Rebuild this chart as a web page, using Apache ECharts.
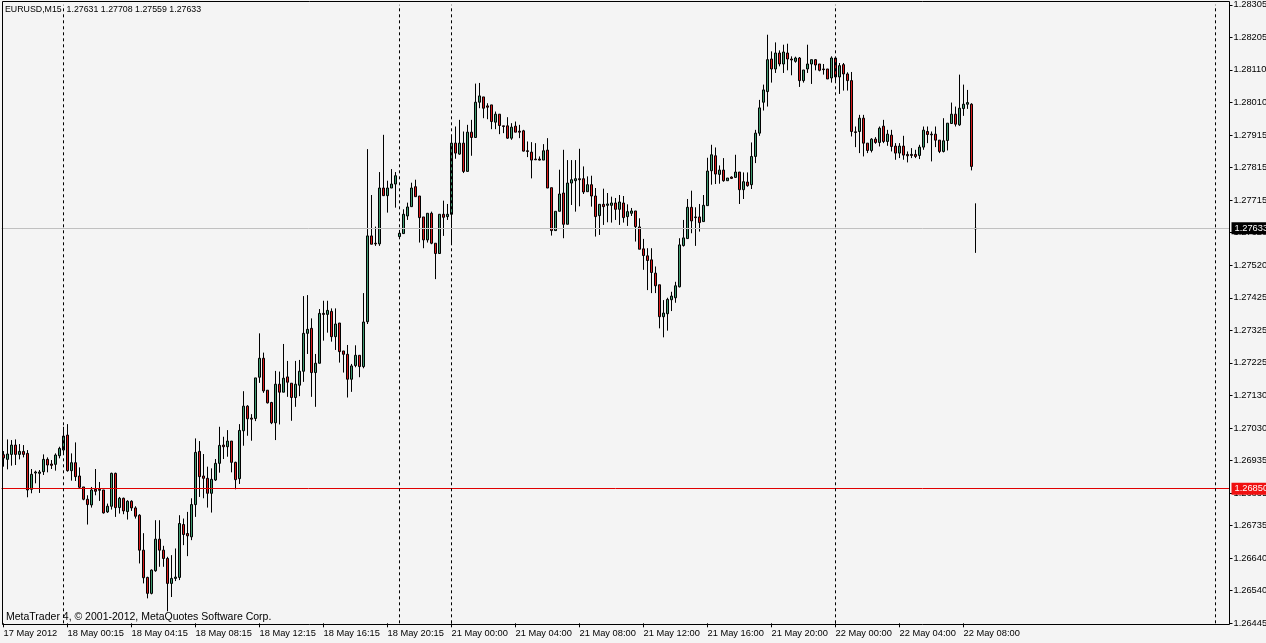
<!DOCTYPE html>
<html>
<head>
<meta charset="utf-8">
<script src="https://cdn.jsdelivr.net/npm/echarts@6.0.0/dist/echarts.min.js"></script>
<style>
html,body{margin:0;padding:0;background:#f4f4f4;}
#chart{width:1266px;height:643px;}
</style>
</head>
<body>
<div id="chart"></div>
<script>
// ---- data (EURUSD M15, bar index 0 = 17 May 2012 20:15) ----
const opens = [1.26952,1.26938,1.26953,1.26981,1.26953,1.26962,1.26956,1.26848,1.26897,1.26896,1.26901,1.26938,1.26924,1.26923,1.26949,1.26966,1.27011,1.26904,1.26928,1.26888,1.26855,1.26818,1.26801,1.26848,1.26848,1.26846,1.26780,1.26797,1.26896,1.26793,1.26821,1.26781,1.26812,1.26792,1.26770,1.26665,1.26583,1.26535,1.26603,1.26698,1.26665,1.26640,1.26565,1.26580,1.26583,1.26742,1.26715,1.26705,1.26802,1.26962,1.26888,1.26881,1.26836,1.26876,1.26926,1.26981,1.26976,1.26993,1.26929,1.26880,1.27024,1.27098,1.27062,1.27061,1.27185,1.27242,1.27146,1.27109,1.27048,1.27164,1.27140,1.27186,1.27167,1.27124,1.27161,1.27203,1.27317,1.27332,1.27199,1.27227,1.27377,1.27374,1.27383,1.27307,1.27348,1.27264,1.27254,1.27179,1.27220,1.27251,1.27217,1.27352,1.27610,1.27588,1.27586,1.27754,1.27731,1.27754,1.27766,1.27608,1.27617,1.27670,1.27698,1.27758,1.27730,1.27667,1.27598,1.27678,1.27588,1.27557,1.27675,1.27668,1.27675,1.27889,1.27856,1.27889,1.27804,1.27922,1.27906,1.28012,1.28028,1.28001,1.28004,1.27952,1.27976,1.27941,1.27941,1.27904,1.27940,1.27925,1.27926,1.27866,1.27862,1.27841,1.27841,1.27838,1.27868,1.27755,1.27626,1.27684,1.27739,1.27645,1.27769,1.27776,1.27782,1.27782,1.27743,1.27764,1.27730,1.27671,1.27705,1.27702,1.27702,1.27709,1.27690,1.27709,1.27668,1.27678,1.27685,1.27637,1.27571,1.27550,1.27538,1.27498,1.27463,1.27367,1.27376,1.27418,1.27424,1.27457,1.27581,1.27602,1.27696,1.27667,1.27667,1.27653,1.27701,1.27806,1.27851,1.27795,1.27808,1.27776,1.27787,1.27786,1.27802,1.27749,1.27772,1.27764,1.27849,1.27919,1.28012,1.28044,1.28142,1.28112,1.28160,1.28127,1.28160,1.28142,1.28135,1.28145,1.28077,1.28112,1.28127,1.28140,1.28127,1.28112,1.28112,1.28085,1.28145,1.28088,1.28125,1.28097,1.28077,1.27923,1.27924,1.27964,1.27889,1.27867,1.27901,1.27891,1.27940,1.27894,1.27913,1.27880,1.27859,1.27880,1.27855,1.27855,1.27855,1.27852,1.27877,1.27924,1.27916,1.27916,1.27898,1.27864,1.27897,1.27948,1.27976,1.27944,1.27993,1.28006,1.28006,1.27631];
const closes = [1.26942,1.26954,1.26981,1.26953,1.26962,1.26953,1.26846,1.26893,1.26900,1.26900,1.26938,1.26921,1.26920,1.26951,1.26971,1.27008,1.26904,1.26928,1.26886,1.26854,1.26818,1.26802,1.26846,1.26842,1.26845,1.26777,1.26797,1.26896,1.26793,1.26821,1.26783,1.26812,1.26792,1.26767,1.26665,1.26582,1.26535,1.26605,1.26698,1.26665,1.26640,1.26565,1.26580,1.26584,1.26745,1.26712,1.26708,1.26802,1.26959,1.26886,1.26881,1.26836,1.26878,1.26926,1.26980,1.26976,1.26993,1.26929,1.26877,1.27025,1.27098,1.27060,1.27059,1.27183,1.27242,1.27144,1.27108,1.27048,1.27164,1.27140,1.27182,1.27170,1.27124,1.27164,1.27203,1.27317,1.27329,1.27199,1.27227,1.27377,1.27374,1.27386,1.27307,1.27345,1.27262,1.27254,1.27179,1.27219,1.27251,1.27217,1.27351,1.27610,1.27585,1.27586,1.27754,1.27731,1.27754,1.27766,1.27791,1.27618,1.27675,1.27697,1.27754,1.27728,1.27665,1.27598,1.27678,1.27588,1.27557,1.27675,1.27666,1.27675,1.27889,1.27859,1.27889,1.27804,1.27922,1.27906,1.28012,1.28031,1.27994,1.27997,1.27954,1.27976,1.27942,1.27939,1.27904,1.27937,1.27922,1.27922,1.27865,1.27864,1.27838,1.27839,1.27838,1.27866,1.27754,1.27626,1.27684,1.27736,1.27645,1.27769,1.27779,1.27782,1.27779,1.27742,1.27764,1.27730,1.27668,1.27705,1.27698,1.27706,1.27709,1.27690,1.27712,1.27665,1.27683,1.27685,1.27638,1.27570,1.27551,1.27536,1.27500,1.27460,1.27367,1.27378,1.27419,1.27429,1.27460,1.27583,1.27604,1.27696,1.27655,1.27665,1.27650,1.27702,1.27805,1.27854,1.27796,1.27808,1.27776,1.27784,1.27783,1.27802,1.27749,1.27773,1.27761,1.27849,1.27919,1.27995,1.28049,1.28140,1.28112,1.28160,1.28127,1.28163,1.28142,1.28139,1.28145,1.28077,1.28109,1.28127,1.28140,1.28124,1.28108,1.28110,1.28082,1.28145,1.28088,1.28122,1.28097,1.28077,1.27924,1.27921,1.27964,1.27889,1.27867,1.27901,1.27891,1.27934,1.27894,1.27916,1.27879,1.27859,1.27880,1.27853,1.27851,1.27852,1.27849,1.27877,1.27928,1.27915,1.27914,1.27898,1.27864,1.27896,1.27949,1.27976,1.27946,1.27994,1.28006,1.28011,1.27819,1.27633];
const lows = [1.26916,1.26908,1.26919,1.26921,1.26938,1.26944,1.26824,1.26836,1.26866,1.26837,1.26891,1.26899,1.26909,1.26904,1.26941,1.26956,1.26901,1.26874,1.26873,1.26851,1.26815,1.26742,1.26793,1.26830,1.26813,1.26775,1.26777,1.26787,1.26765,1.26775,1.26773,1.26757,1.26783,1.26760,1.26625,1.26565,1.26520,1.26532,1.26600,1.26615,1.26615,1.26481,1.26524,1.26572,1.26575,1.26680,1.26647,1.26695,1.26765,1.26825,1.26821,1.26793,1.26778,1.26873,1.26898,1.26939,1.26946,1.26899,1.26848,1.26864,1.26979,1.27009,1.26994,1.27053,1.27168,1.27138,1.27106,1.27044,1.26996,1.27043,1.27140,1.27126,1.27054,1.27096,1.27128,1.27171,1.27255,1.27126,1.27096,1.27227,1.27295,1.27319,1.27292,1.27267,1.27229,1.27199,1.27124,1.27141,1.27215,1.27185,1.27212,1.27345,1.27585,1.27580,1.27580,1.27731,1.27680,1.27754,1.27695,1.27602,1.27617,1.27658,1.27698,1.27728,1.27590,1.27573,1.27590,1.27585,1.27480,1.27557,1.27610,1.27658,1.27583,1.27842,1.27854,1.27799,1.27804,1.27851,1.27906,1.27994,1.27964,1.27961,1.27931,1.27931,1.27916,1.27919,1.27902,1.27899,1.27922,1.27904,1.27864,1.27847,1.27783,1.27838,1.27837,1.27838,1.27754,1.27611,1.27626,1.27684,1.27603,1.27645,1.27703,1.27683,1.27699,1.27736,1.27743,1.27698,1.27608,1.27613,1.27643,1.27651,1.27650,1.27658,1.27643,1.27650,1.27640,1.27670,1.27593,1.27570,1.27508,1.27447,1.27438,1.27438,1.27332,1.27305,1.27325,1.27384,1.27409,1.27455,1.27578,1.27602,1.27618,1.27580,1.27623,1.27653,1.27701,1.27764,1.27766,1.27767,1.27773,1.27776,1.27781,1.27784,1.27706,1.27721,1.27758,1.27751,1.27829,1.27911,1.27987,1.27999,1.28071,1.28100,1.28120,1.28100,1.28108,1.28093,1.28131,1.28058,1.28071,1.28100,1.28067,1.28108,1.28105,1.28095,1.28082,1.28071,1.28071,1.28037,1.28047,1.28047,1.27909,1.27877,1.27859,1.27849,1.27859,1.27861,1.27887,1.27879,1.27889,1.27881,1.27864,1.27839,1.27844,1.27839,1.27831,1.27844,1.27844,1.27841,1.27869,1.27889,1.27834,1.27877,1.27859,1.27861,1.27867,1.27948,1.27939,1.27941,1.27971,1.27992,1.27807,1.27559];
const highs = [1.26963,1.26998,1.26996,1.26998,1.26984,1.26981,1.26966,1.26909,1.26904,1.26906,1.26953,1.26944,1.26936,1.26956,1.26976,1.27036,1.27044,1.26956,1.26989,1.26914,1.26855,1.26830,1.26855,1.26909,1.26870,1.26846,1.26805,1.26898,1.26898,1.26825,1.26823,1.26815,1.26815,1.26797,1.26773,1.26716,1.26585,1.26607,1.26755,1.26755,1.26678,1.26645,1.26650,1.26670,1.26770,1.26760,1.26780,1.26821,1.27001,1.26993,1.26954,1.26916,1.26911,1.26939,1.27036,1.27006,1.27026,1.26993,1.26931,1.27044,1.27143,1.27101,1.27074,1.27183,1.27317,1.27259,1.27146,1.27111,1.27204,1.27202,1.27285,1.27234,1.27167,1.27234,1.27237,1.27429,1.27432,1.27362,1.27255,1.27390,1.27415,1.27415,1.27392,1.27392,1.27348,1.27264,1.27282,1.27225,1.27281,1.27251,1.27438,1.27871,1.27733,1.27638,1.27802,1.27914,1.27776,1.27811,1.27802,1.27628,1.27690,1.27710,1.27770,1.27779,1.27730,1.27667,1.27678,1.27683,1.27588,1.27675,1.27716,1.27706,1.27914,1.27939,1.27959,1.27924,1.27944,1.27959,1.28068,1.28070,1.28028,1.28009,1.28004,1.27984,1.27976,1.27941,1.27967,1.27949,1.27954,1.27944,1.27929,1.27894,1.27892,1.27889,1.27849,1.27886,1.27904,1.27755,1.27684,1.27809,1.27869,1.27838,1.27838,1.27838,1.27872,1.27819,1.27789,1.27791,1.27754,1.27705,1.27752,1.27739,1.27728,1.27724,1.27733,1.27730,1.27705,1.27694,1.27685,1.27663,1.27601,1.27573,1.27573,1.27518,1.27463,1.27417,1.27424,1.27442,1.27472,1.27603,1.27658,1.27721,1.27746,1.27696,1.27706,1.27733,1.27845,1.27884,1.27876,1.27822,1.27844,1.27784,1.27789,1.27854,1.27802,1.27801,1.27801,1.27891,1.27929,1.28019,1.28065,1.28215,1.28165,1.28192,1.28168,1.28185,1.28188,1.28150,1.28149,1.28148,1.28109,1.28185,1.28140,1.28142,1.28127,1.28127,1.28112,1.28150,1.28145,1.28130,1.28130,1.28102,1.28103,1.27939,1.27974,1.27974,1.27889,1.27904,1.27907,1.27939,1.27959,1.27929,1.27929,1.27889,1.27889,1.27911,1.27864,1.27874,1.27869,1.27884,1.27939,1.27939,1.27924,1.27939,1.27898,1.27964,1.27949,1.28011,1.27999,1.28095,1.28065,1.28049,1.28009,1.27708];

// time-axis tick labels (every 16 bars = 4 hours)
const timeTickIndex = [0,16,32,48,64,80,96,112,128,144,160,176,192,208,224,240];
const timeTickText = ['17 May 2012','18 May 00:15','18 May 04:15','18 May 08:15','18 May 12:15','18 May 16:15','18 May 20:15','21 May 00:00','21 May 04:00','21 May 08:00','21 May 12:00','21 May 16:00','21 May 20:00','22 May 00:00','22 May 04:00','22 May 08:00'];
// price-axis tick labels, bottom to top
const priceTicks = ['1.26445','1.26540','1.26640','1.26735','1.26835','1.26935','1.27030','1.27130','1.27225','1.27325','1.27425','1.27520','1.27620','1.27715','1.27815','1.27915','1.28010','1.28110','1.28205','1.28305'];
const priceMin = 1.26445, priceMax = 1.28305;
// day separators (bar indices) and horizontal levels
const separators = [15, 99, 112, 208, 303];
const bidPrice = 1.27633;
const levelPrice = 1.26850;
const totalSlots = 307;
const titleText = 'EURUSD,M15  1.27631 1.27708 1.27559 1.27633';
const footerText = 'MetaTrader 4, \u00a9 2001-2012, MetaQuotes Software Corp.';

const categories = [];
for (let i = 0; i < totalSlots; i++) categories.push(String(i));
const candleData = opens.map((o, i) => [o, closes[i], lows[i], highs[i]]);
const tickMap = {};
timeTickIndex.forEach((idx, k) => { tickMap[idx] = timeTickText[k]; });

const FONT = 'Liberation Sans';
const FS = 9.3;

const chart = echarts.init(document.getElementById('chart'), null, {renderer: 'canvas'});
const option = {
  animation: false,
  backgroundColor: '#f4f4f4',
  grid: {left: 1.5, top: 4.8, width: totalSlots * 4, height: 618.5, containLabel: false, outerBoundsMode: 'none'},
  xAxis: {
    type: 'category',
    data: categories,
    boundaryGap: true,
    offset: 1,
    axisLine: {show: false},
    axisTick: {show: true, alignWithLabel: true, length: 4, interval: (i) => tickMap[i] !== undefined, lineStyle: {color: '#000'}},
    axisLabel: {
      show: true, interval: (i) => tickMap[i] !== undefined,
      formatter: (v, idx) => tickMap[idx] || '',
      align: 'left', margin: 5, color: '#000', fontFamily: FONT, fontSize: FS
    },
    splitLine: {show: false}
  },
  yAxis: [
    {type: 'value', min: priceMin, max: priceMax, show: false, position: 'right', splitLine: {show: false}},
    {
      type: 'value', min: 0, max: priceTicks.length - 1, interval: 1, position: 'right',
      axisLine: {show: false},
      axisTick: {show: true, length: 3, lineStyle: {color: '#000'}},
      axisLabel: {formatter: (v) => priceTicks[Math.round(v)] || '', margin: 4, color: '#000', fontFamily: FONT, fontSize: FS},
      splitLine: {show: false}
    }
  ],
  series: [{
    type: 'candlestick',
    xAxisIndex: 0, yAxisIndex: 0,
    data: candleData,
    barWidth: 2,
    itemStyle: {color: '#3f9a6f', color0: '#d91a1a', borderColor: '#000', borderColor0: '#000', borderColorDoji: '#000', borderWidth: 1},
    emphasis: {disabled: true},
    markLine: {
      silent: true, symbol: ['none', 'none'], animation: false, precision: 5,
      data: [
        {yAxis: bidPrice, lineStyle: {color: '#c0c0c0', width: 1, type: 'solid'},
         label: {show: true, position: 'end', formatter: bidPrice.toFixed(5), distance: 2, backgroundColor: '#000', color: '#fff', padding: [2, 3, 1, 3], fontFamily: FONT, fontSize: FS}},
        {yAxis: levelPrice, lineStyle: {color: '#e00000', width: 1, type: 'solid'},
         label: {show: true, position: 'end', formatter: levelPrice.toFixed(5), distance: 2, backgroundColor: '#f01010', color: '#fff', padding: [2, 3, 1, 3], fontFamily: FONT, fontSize: FS}}
      ].concat(separators.map(s => ({xAxis: s, lineStyle: {color: '#000', width: 1, type: [3, 3]}, label: {show: false}})))
    }
  }],
  graphic: [
    {type: 'rect', shape: {x: 2.5, y: 1.5, width: 1227, height: 623}, style: {fill: 'none', stroke: '#000', lineWidth: 1}, z: 100, silent: true},
    {type: 'text', left: 5, top: 5, style: {text: titleText, fill: '#000', font: '8.8px "Liberation Sans"'}, z: 101},
    {type: 'text', left: 6, top: 612, style: {text: footerText, fill: '#000', font: '10.5px "Liberation Sans"'}, z: 101}
  ]
};
chart.setOption(option);
</script>
</body>
</html>
